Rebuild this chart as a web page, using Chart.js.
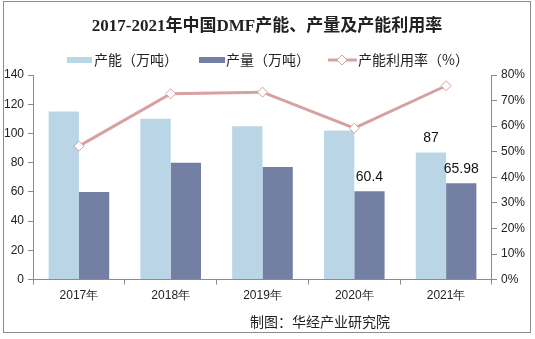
<!DOCTYPE html>
<html lang="zh">
<head>
<meta charset="UTF-8">
<script src="https://cdn.jsdelivr.net/npm/chart.js"></script>
<title>DMF</title>
<style>
  body { margin: 0; background: #fff; }
  #wrap { position: relative; width: 535px; height: 339px; }
  #foot { position: absolute; left: 250px; top: 311px; font: 14px "Noto Sans CJK SC", sans-serif; color: #222; }
</style>
</head>
<body>
<div id="wrap">
  <canvas id="myChart" width="535" height="339"></canvas>
  <div id="foot">制图：华经产业研究院</div>
</div>
<script>
const years = ['2017年', '2018年', '2019年', '2020年', '2021年'];
const capacity = [115, 110, 105, 102, 87];
const output = [60, 80, 77, 60.4, 65.98];
const utilization = [52.2, 72.7, 73.3, 59.2, 75.8];
// only these bars carry a value label in the original
const capLabels = [null, null, null, null, '87'];
const outLabels = [null, null, null, '60.4', '65.98'];

const LIGHT = '#B9D5E6', DARK = '#737FA3', PINK = '#D8A0A0';
const CJK = '"Noto Sans CJK SC", sans-serif';

// title, legend, frame and bar labels
const decor = {
  id: 'decor',
  afterDraw(chart) {
    const ctx = chart.ctx;
    ctx.save();
    ctx.strokeStyle = '#8c8c8c';
    ctx.lineWidth = 1;
    ctx.strokeRect(3.5, 1.5, 527, 331);

    ctx.fillStyle = '#222';
    ctx.font = 'bold 17px "Liberation Serif", "Noto Sans CJK SC", serif';
    ctx.textAlign = 'center';
    ctx.textBaseline = 'middle';
    ctx.fillText('2017-2021年中国DMF产能、产量及产能利用率', 267, 27);

    // legend
    ctx.font = '14px ' + CJK;
    ctx.textAlign = 'left';
    const ly = 60;
    ctx.fillStyle = LIGHT; ctx.fillRect(67, ly - 3, 25, 6);
    ctx.fillStyle = '#222'; ctx.fillText('产能（万吨）', 94, ly);
    ctx.fillStyle = DARK; ctx.fillRect(199, ly - 3, 26, 6);
    ctx.fillStyle = '#222'; ctx.fillText('产量（万吨）', 226, ly);
    ctx.strokeStyle = PINK; ctx.lineWidth = 3;
    ctx.beginPath(); ctx.moveTo(328, ly); ctx.lineTo(357, ly); ctx.stroke();
    ctx.fillStyle = '#fff'; ctx.lineWidth = 1;
    ctx.beginPath();
    ctx.moveTo(342, ly - 5); ctx.lineTo(347, ly); ctx.lineTo(342, ly + 5); ctx.lineTo(337, ly);
    ctx.closePath(); ctx.fill(); ctx.stroke();
    ctx.fillStyle = '#222'; ctx.fillText('产能利用率（%）', 358, ly);

    // value labels
    ctx.fillStyle = '#111';
    ctx.font = '14px "Liberation Sans", Arial, sans-serif';
    ctx.textAlign = 'center';
    ctx.textBaseline = 'bottom';
    [[1, capLabels], [2, outLabels]].forEach(([di, labs]) => {
      chart.getDatasetMeta(di).data.forEach((bar, i) => {
        if (labs[i]) ctx.fillText(labs[i], bar.x, bar.y - 7);
      });
    });
    ctx.restore();
  }
};

const tickFont = { family: '"Liberation Sans", Arial, sans-serif', size: 12 };

new Chart(document.getElementById('myChart'), {
  data: {
    labels: years,
    datasets: [
      { type: 'line', label: '产能利用率（%）', data: utilization, yAxisID: 'y1',
        borderColor: PINK, borderWidth: 3, pointStyle: 'rectRot', pointRadius: 5,
        pointBackgroundColor: '#fff', pointBorderColor: PINK, pointBorderWidth: 1, order: 0 },
      { type: 'bar', label: '产能（万吨）', data: capacity, backgroundColor: LIGHT, yAxisID: 'y', order: 1 },
      { type: 'bar', label: '产量（万吨）', data: output, backgroundColor: DARK, yAxisID: 'y', order: 1 }
    ]
  },
  options: {
    responsive: false,
    animation: false,
    layout: { padding: { top: 75, bottom: 32, left: 0, right: 6 } },
    datasets: { bar: { categoryPercentage: 0.66, barPercentage: 1 } },
    plugins: { legend: { display: false }, title: { display: false }, tooltip: { enabled: false } },
    scales: {
      x: {
        grid: { display: true, drawOnChartArea: false, offset: true, tickLength: 5, color: '#8c8c8c' },
        border: { color: '#8c8c8c' },
        ticks: { color: '#222', font: tickFont, padding: 4 }
      },
      y: {
        position: 'left', min: 0, max: 140,
        grid: { drawOnChartArea: false, tickLength: 5, color: '#8c8c8c' },
        border: { color: '#8c8c8c' },
        ticks: { stepSize: 20, color: '#222', font: tickFont, padding: 4 }
      },
      y1: {
        position: 'right', min: 0, max: 80,
        grid: { drawOnChartArea: false, tickLength: 5, color: '#8c8c8c' },
        border: { color: '#8c8c8c' },
        ticks: { stepSize: 10, color: '#222', font: tickFont, padding: 4, callback: v => v + '%' }
      }
    }
  },
  plugins: [decor]
});
</script>
</body>
</html>
